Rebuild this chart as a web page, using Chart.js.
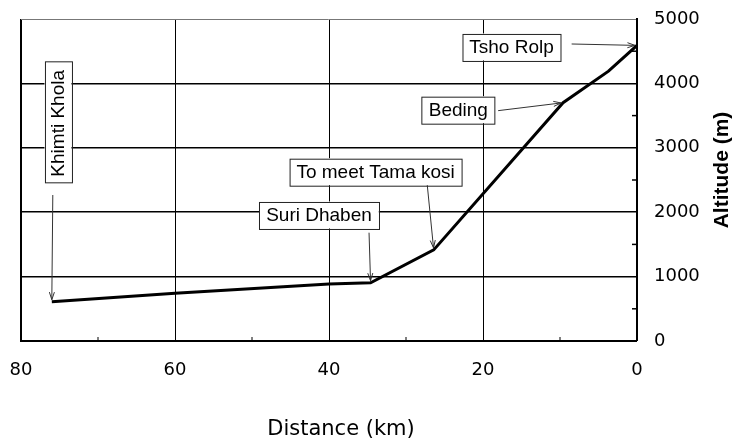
<!DOCTYPE html>
<html>
<head>
<meta charset="utf-8">
<script src="https://cdn.jsdelivr.net/npm/chart.js@4/dist/chart.umd.min.js"></script>
<style>
html,body{margin:0;padding:0;background:#fff;}
#wrap{width:734px;height:444px;}
</style>
</head>
<body>
<div id="wrap"><canvas id="c" width="734" height="444"></canvas></div>
<script>
// ---- data ----
const distanceKm = [76, 60, 40, 34.6, 26.4, 9.6, 3.7, 0];
const altitudeM  = [610, 740, 885, 905, 1415, 3700, 4190, 4590];
const xTicks = [0, 20, 40, 60, 80];
const yTicks = [0, 1000, 2000, 3000, 4000, 5000];
const xMinorTicks = [10, 30, 50, 70];
const yMinorTicks = [500, 1500, 2500, 3500, 4500];
const xTitle = 'Distance (km)';
const yTitle = 'Altitude (m)';
const placeNames = ['Khimti Khola', 'Suri Dhaben', 'To meet Tama kosi', 'Beding', 'Tsho Rolp'];
const placeIndex = [0, 3, 4, 5, 7];

// annotation layout (box centre and arrow tail in data units)
const annoLayout = [
  {vertical: true, at: [75.2, 3380], tail: [75.87, 2267]},
  {at: [41.3, 1957], tail: [34.8, 1682]},
  {at: [33.95, 2629], tail: [27.24, 2423]},
  {at: [23.2, 3592], tail: [18.03, 3577]},
  {at: [16.3, 4566], tail: [8.49, 4612]}
];

const points = distanceKm.map((d, i) => ({x: d, y: altitudeM[i]}));

const annoFont = '19px "Liberation Sans", Arial, sans-serif';

const extrasPlugin = {
  id: 'extras',
  afterDraw(chart) {
    const ctx = chart.ctx;
    const xs = chart.scales.x, ys = chart.scales.y;
    const ca = chart.chartArea;
    ctx.save();
    // minor ticks (inward)
    ctx.strokeStyle = '#000';
    ctx.lineWidth = 1.5;
    yMinorTicks.forEach(v => {
      const py = ys.getPixelForValue(v);
      ctx.beginPath(); ctx.moveTo(ca.right - 5, py); ctx.lineTo(ca.right, py); ctx.stroke();
    });
    ctx.lineWidth = 1;
    xMinorTicks.forEach(v => {
      const px = xs.getPixelForValue(v);
      ctx.beginPath(); ctx.moveTo(px, ca.bottom); ctx.lineTo(px, ca.bottom - 4); ctx.stroke();
    });

    // annotations
    ctx.font = annoFont;
    placeNames.forEach((name, i) => {
      const lay = annoLayout[i];
      const cx = xs.getPixelForValue(lay.at[0]);
      const cy = ys.getPixelForValue(lay.at[1]);
      const tw = ctx.measureText(name).width;
      const bw = tw + 14, bh = 27;
      // arrow
      const tx = xs.getPixelForValue(lay.tail[0]);
      const ty = ys.getPixelForValue(lay.tail[1]);
      const p = points[placeIndex[i]];
      let hx = xs.getPixelForValue(p.x), hy = ys.getPixelForValue(p.y);
      const ang = Math.atan2(hy - ty, hx - tx);
      hx -= 2 * Math.cos(ang); hy -= 2 * Math.sin(ang);
      ctx.strokeStyle = '#333';
      ctx.lineWidth = 1;
      ctx.beginPath(); ctx.moveTo(tx, ty); ctx.lineTo(hx, hy); ctx.stroke();
      const al = 8, aw = 0.32;
      ctx.beginPath();
      ctx.moveTo(hx - al * Math.cos(ang - aw), hy - al * Math.sin(ang - aw));
      ctx.lineTo(hx, hy);
      ctx.lineTo(hx - al * Math.cos(ang + aw), hy - al * Math.sin(ang + aw));
      ctx.stroke();
      // box
      ctx.save();
      ctx.translate(cx, cy);
      if (lay.vertical) ctx.rotate(-Math.PI / 2);
      ctx.fillStyle = '#fff';
      ctx.fillRect(-bw / 2, -bh / 2, bw, bh);
      ctx.strokeStyle = '#222';
      ctx.lineWidth = 1;
      ctx.strokeRect(Math.round(-bw / 2) + 0.5, Math.round(-bh / 2) + 0.5, Math.round(bw), Math.round(bh));
      ctx.fillStyle = '#000';
      ctx.textAlign = 'center';
      ctx.textBaseline = 'middle';
      ctx.fillText(name, 0, 1);
      ctx.restore();
    });

    // axis titles
    ctx.fillStyle = '#000';
    ctx.textAlign = 'center';
    ctx.textBaseline = 'middle';
    ctx.font = '21px "DejaVu Sans", sans-serif';
    ctx.fillText(xTitle, (ca.left + ca.right) / 2 + 12, 430);
    ctx.save();
    ctx.translate(722, (ca.top + ca.bottom) / 2 - 10);
    ctx.rotate(-Math.PI / 2);
    ctx.font = 'bold 21px "Liberation Sans", Arial, sans-serif';
    ctx.fillText(yTitle, 0, 0);
    ctx.restore();
    ctx.restore();
  }
};

new Chart(document.getElementById('c'), {
  type: 'scatter',
  data: {
    datasets: [{
      data: points,
      showLine: true,
      borderColor: '#000',
      borderWidth: 3,
      pointRadius: 0,
      pointHoverRadius: 0,
      tension: 0,
      fill: false
    }]
  },
  options: {
    responsive: false,
    animation: false,
    events: [],
    layout: {padding: {left: 21, top: 19, right: 0, bottom: 0}},
    plugins: {legend: {display: false}, tooltip: {enabled: false}},
    scales: {
      x: {
        type: 'linear',
        reverse: true,
        min: 0, max: 80,
        afterBuildTicks: s => { s.ticks = xTicks.map(v => ({value: v})); },
        afterFit: s => { s.height = 103; s.paddingLeft = 0; s.paddingRight = 0; },
        ticks: {
          color: '#000',
          padding: 19,
          maxRotation: 0,
          callback: v => String(v),
          font: {family: '"DejaVu Sans", sans-serif', size: 18}
        },
        grid: {
          drawTicks: false,
          color: '#000',
          lineWidth: c => (c.tick && c.tick.value === 80) ? 2 : (c.tick && c.tick.value === 0 ? 0 : 1)
        },
        border: {display: true, color: '#000', width: 2}
      },
      y: {
        type: 'linear',
        position: 'right',
        min: 0, max: 5000,
        afterBuildTicks: s => { s.ticks = yTicks.map(v => ({value: v})); },
        afterFit: s => { s.width = 97; s.paddingTop = 0; s.paddingBottom = 0; },
        ticks: {
          color: '#000',
          padding: 17,
          callback: v => String(v),
          font: {family: '"DejaVu Sans", sans-serif', size: 18}
        },
        grid: {
          drawTicks: false,
          color: c => (c.tick && c.tick.value === 5000) ? '#777' : '#000',
          lineWidth: c => (c.tick && c.tick.value === 0) ? 0 : (c.tick && c.tick.value === 5000 ? 1 : 1.6)
        },
        border: {display: true, color: '#000', width: 2}
      }
    }
  },
  plugins: [extrasPlugin]
});
</script>
</body>
</html>
